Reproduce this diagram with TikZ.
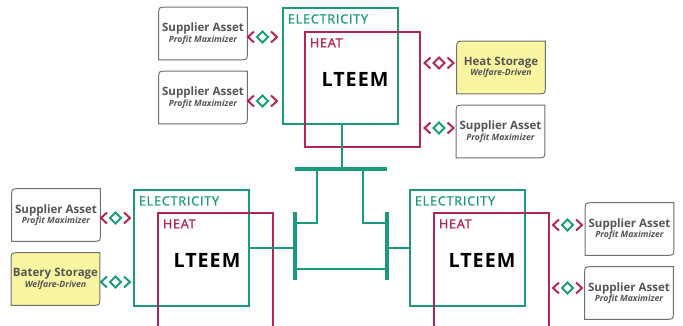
\documentclass[tikz,border=0pt]{standalone}
\usepackage{fontspec}
\setmainfont{Open Sans}
\usetikzlibrary{backgrounds}

\definecolor{elecgreen}{HTML}{1A9A7C}
\definecolor{heatred}{HTML}{B0284F}
\definecolor{storeyellow}{HTML}{FAF5A0}
\definecolor{txtgray}{HTML}{555555}
\definecolor{framegray}{HTML}{707070}

\newfontfamily\gridfont[LetterSpace=6,FakeBold=1.5]{Open Sans}
\newfontfamily\lteemfont[LetterSpace=5]{Open Sans}

% Rahmen mit zwei runden Ecken (oben links, unten rechts)
\newcommand\assetframe[2]{%
  \draw[assetline, fill=#2] ([xshift=5pt]#1.north west) -- (#1.north east)
    -- ([yshift=5pt]#1.south east) .. controls (#1.south east) .. ([xshift=-5pt]#1.south east)
    -- (#1.south west) -- ([yshift=-5pt]#1.north west)
    .. controls (#1.north west) .. ([xshift=5pt]#1.north west) -- cycle;}
\newcommand\role[1]{{\fontsize{6.2}{6}\selectfont\itshape #1}}

\tikzset{
  pics/linkmark/.style 2 args={code={
    \draw[link, #1] (-8.5,-5.5) -- (-14.5,0) -- (-8.5,5.5);
    \draw[link, #1] (8.5,-5.5) -- (14.5,0) -- (8.5,5.5);
    \draw[link, #2] (0,-5.5) -- (5.5,0) -- (0,5.5) -- (-5.5,0) -- cycle;
  }}
}

\begin{document}
\begin{tikzpicture}[x=0.025cm, y=-0.025cm,
    elecbox/.style={draw=elecgreen, line width=1.3pt, minimum width=2.875cm, minimum height=2.9cm, anchor=north west, inner sep=0},
    heatbox/.style={draw=heatred, line width=1.3pt, minimum width=2.875cm, minimum height=2.875cm, anchor=north west, inner sep=0},
    gridlabel/.style={anchor=north west, inner sep=0, font=\fontsize{9}{9}\gridfont, xshift=4pt, yshift=-5pt},
    lteem/.style={inner sep=0, font=\fontsize{14}{14}\lteemfont\bfseries},
    asset/.style={minimum width=2.2cm, minimum height=1.3cm, inner sep=0, align=center, text=txtgray, font=\fontsize{8.2}{7.5}\selectfont\bfseries},
    assetline/.style={draw=framegray, line width=0.7pt},
    link/.style={line width=1.4pt},
    bar/.style={draw=elecgreen, line width=2.4pt},
    feeder/.style={draw=elecgreen, line width=1.3pt}]
    \useasboundingbox (0,0) rectangle (683,326);

    % LTEEM oben
    \node[elecbox] (elecA) at (282,7) {};
    \node[heatbox] (heatA) at (304,31) {};
    \node[gridlabel, text=elecgreen] (elecAlbl) at (elecA.north west) {ELECTRICITY};
    \node[gridlabel, text=heatred] (heatAlbl) at (heatA.north west) {HEAT};
    \node[lteem] (lteemA) at (355,79) {LTEEM};

    % LTEEM unten links
    \node[elecbox] (elecB) at (133,189) {};
    \node[heatbox] (heatB) at (157,212) {};
    \node[gridlabel, text=elecgreen] (elecBlbl) at (elecB.north west) {ELECTRICITY};
    \node[gridlabel, text=heatred] (heatBlbl) at (heatB.north west) {HEAT};
    \node[lteem] (lteemB) at (207,260) {LTEEM};

    % LTEEM unten rechts
    \node[elecbox] (elecC) at (409,189) {};
    \node[heatbox] (heatC) at (433,212) {};
    \node[gridlabel, text=elecgreen] (elecClbl) at (elecC.north west) {ELECTRICITY};
    \node[gridlabel, text=heatred] (heatClbl) at (heatC.north west) {HEAT};
    \node[lteem] (lteemC) at (482,260) {LTEEM};

    % Netz
    \coordinate (busTl) at (295,169);
    \coordinate (busTr) at (387,169);
    \coordinate (busLt) at (295,212);
    \coordinate (busLb) at (295,280);
    \coordinate (busRt) at (387,212);
    \coordinate (busRb) at (387,280);
    \coordinate (tapA) at (342,169);
    \coordinate (dropL) at (317,169);
    \coordinate (kneeL) at (317,223);
    \coordinate (dropR) at (363,169);
    \coordinate (kneeR) at (363,223);
    \coordinate (tieL) at (295,269);
    \coordinate (tieR) at (387,269);
    \draw[bar] (busTl) -- (busTr);
    \draw[bar] (busLt) -- (busLb);
    \draw[bar] (busRt) -- (busRb);
    \draw[feeder] (tapA |- elecA.south) -- (tapA);
    \draw[feeder] (dropL) -- (kneeL) -- (kneeL -| busLt);
    \draw[feeder] (dropR) -- (kneeR) -- (kneeR -| busRt);
    \draw[feeder] (tieL) -- (tieR);
    \draw[feeder] (elecB.east) -- (elecB.east -| busLt);
    \draw[feeder] (elecC.west) -- (elecC.west -| busRt);

    % Anlagen
    \node[asset] (supA1) at (203,33.5) {Supplier Asset\\\role{Profit Maximizer}};
    \node[asset] (supA2) at (203,97.5) {Supplier Asset\\\role{Profit Maximizer}};
    \node[asset] (heatStore) at (501,67.5) {Heat Storage\\\role{Welfare-Driven}};
    \node[asset] (supA3) at (500.5,131.5) {Supplier Asset\\\role{Profit Maximizer}};
    \node[asset] (supB1) at (56,215) {Supplier Asset\\\role{Profit Maximizer}};
    \node[asset] (battStore) at (55.5,279) {Batery Storage\\\role{Welfare-Driven}};
    \node[asset] (supC1) at (629.5,229) {Supplier Asset\\\role{Profit Maximizer}};
    \node[asset] (supC2) at (629,293) {Supplier Asset\\\role{Profit Maximizer}};
    \begin{scope}[on background layer]
        \foreach \n in {supA1,supA2,supA3,supB1,supC1,supC2}
            \assetframe{\n}{white};
        \assetframe{heatStore}{storeyellow}
        \assetframe{battStore}{storeyellow}
    \end{scope}

    % Kopplungen
    \pic at (262.5,37) {linkmark={heatred}{elecgreen}};
    \pic at (262.5,101) {linkmark={heatred}{elecgreen}};
    \pic at (439,63) {linkmark={heatred}{heatred}};
    \pic at (439,128) {linkmark={heatred}{elecgreen}};
    \pic at (115.5,218) {linkmark={heatred}{elecgreen}};
    \pic at (115.5,282) {linkmark={elecgreen}{elecgreen}};
    \pic at (567.5,225) {linkmark={heatred}{elecgreen}};
    \pic at (567.5,288) {linkmark={heatred}{elecgreen}};
\end{tikzpicture}
\end{document}
